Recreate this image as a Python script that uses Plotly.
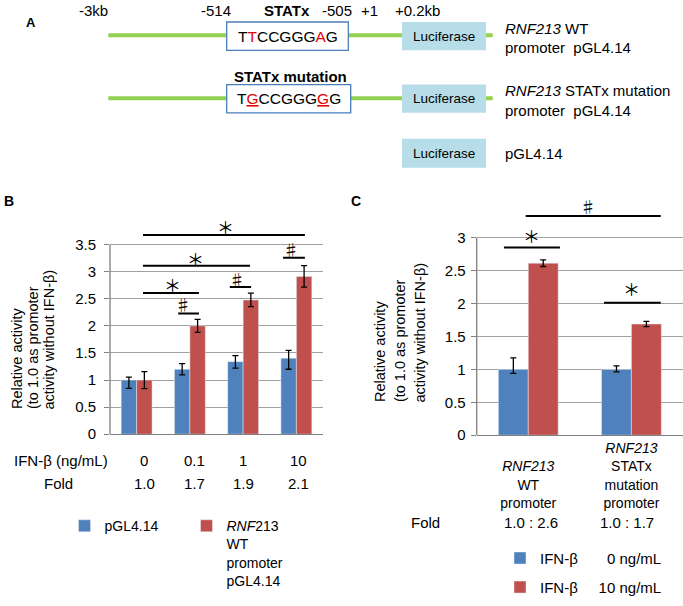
import plotly.graph_objects as go

W, H = 683, 606
FONT = "Arial, Liberation Sans, sans-serif"
SYM = "Noto Sans CJK JP, DejaVu Sans, sans-serif"
BLUE = "#4F81BD"
RED = "#C0504D"
AX = "#7F7F7F"
GRID = "#A0A0A0"
SEQRED = "#E60000"

# ---------------- Panel B data ----------------
doses = ["0", "0.1", "1", "10"]
fold_b = ["1.0", "1.7", "1.9", "2.1"]
vector_b = [1.0, 1.2, 1.34, 1.405]
vector_b_up = [0.055, 0.105, 0.11, 0.145]
vector_b_dn = [0.155, 0.105, 0.12, 0.205]
wt_b = [1.0, 2.0, 2.48, 2.915]
wt_b_up = [0.157, 0.12, 0.125, 0.2]
wt_b_dn = [0.157, 0.12, 0.125, 0.2]

# ---------------- Panel C data ----------------
constructs = ["RNF213 WT promoter", "RNF213 STATx mutation promoter"]
construct_labels = ["\u00a0<br><i>RNF213</i><br>WT<br>promoter",
                    "<i>RNF213</i><br>STATx<br>mutation<br>promoter"]
fold_c = ["1.0 : 2.6", "1.0 : 1.7"]
ifn0_c = [1.0, 1.0]
ifn0_up = [0.174, 0.054]
ifn0_dn = [0.06, 0.036]
ifn10_c = [2.615, 1.69]
ifn10_err = [0.05, 0.04]

b_cats = ["IFN-\u03b2 %s ng/mL" % d for d in doses]

# significance marks: (x0, x1, y_line, x_sym, y_sym, symbol) in category-index / data units
sig_b = [
    (0.12, 1.17, 2.61, 0.67, 2.77, "*"),
    (0.12, 2.13, 3.11, 1.11, 3.25, "*"),
    (0.12, 3.16, 3.68, 1.66, 3.83, "*"),
    (0.78, 1.17, 2.23, 0.87, 2.41, "#"),
    (1.75, 2.15, 2.72, 1.88, 2.87, "#"),
    (2.75, 3.16, 3.26, 2.89, 3.41, "#"),
]
sig_c = [
    (-0.236, 0.307, 2.855, 0.036, 3.04, "*"),
    (0.734, 1.284, 2.015, 1.0, 2.23, "*"),
    (-0.025, 1.284, 3.331, 0.58, 3.48, "#"),
]

# ---------------- geometry (pixels) ----------------
B_LEFT, B_RIGHT, B_ZERO, B_UNIT, B_TOP = 110, 323, 440, 54.86, 3.72
C_LEFT, C_RIGHT, C_ZERO, C_UNIT, C_TOP = 476.7, 683, 441, 66.65, 3.36


def px(x):
    return x / W


def py(y):
    return 1 - y / H


fig = go.Figure()

err_style = dict(color="black", thickness=1.3, width=3)

fig.add_trace(go.Bar(x=b_cats, y=vector_b, name="pGL4.14", marker_color=BLUE,
                     error_y=dict(type="data", symmetric=False, array=vector_b_up,
                                  arrayminus=vector_b_dn, **err_style),
                     xaxis="x", yaxis="y", legend="legend"))
fig.add_trace(go.Bar(x=b_cats, y=wt_b, name="<i>RNF</i>213<br>WT<br>promoter<br>pGL4.14",
                     marker_color=RED,
                     error_y=dict(type="data", symmetric=False, array=wt_b_up,
                                  arrayminus=wt_b_dn, **err_style),
                     xaxis="x", yaxis="y", legend="legend"))
fig.add_trace(go.Bar(x=constructs, y=ifn0_c,
                     name="IFN-\u03b2" + "\u00a0" * 7 + "0 ng/mL", marker_color=BLUE,
                     error_y=dict(type="data", symmetric=False, array=ifn0_up,
                                  arrayminus=ifn0_dn, **err_style),
                     xaxis="x2", yaxis="y2", legend="legend2"))
fig.add_trace(go.Bar(x=constructs, y=ifn10_c,
                     name="IFN-\u03b2" + "\u00a0" * 5 + "10 ng/mL", marker_color=RED,
                     error_y=dict(type="data", array=ifn10_err, **err_style),
                     xaxis="x2", yaxis="y2", legend="legend3"))

shapes = []
ann = []


def txt(x, y, s, size=15, anchor="center", family=FONT, **kw):
    d = dict(x=px(x), y=py(y), xref="paper", yref="paper", text=s, showarrow=False,
             xanchor=anchor, yanchor="middle",
             font=dict(size=size, family=family, color="black"))
    d.update(kw)
    return d


def rect(x0, x1, y0, y1, fill, line_color=None, lw=0):
    return dict(type="rect", xref="paper", yref="paper", x0=px(x0), x1=px(x1),
                y0=py(y1), y1=py(y0), fillcolor=fill,
                line=dict(color=line_color or fill, width=lw), layer="above")


def hline(x0, x1, y, color, w):
    return dict(type="line", xref="paper", yref="paper", x0=px(x0), x1=px(x1),
                y0=py(y), y1=py(y), line=dict(color=color, width=w), layer="above")


# ---------------- Panel A (construct diagram) ----------------
GREEN = "#92D050"
BOXLINE = "#4A7EBB"
LUC = "#B7DEE8"
shapes += [
    hline(108.3, 492.7, 35.7, GREEN, 4),
    rect(226.7, 348.3, 22.3, 51, "white", BOXLINE, 1.3),
    rect(402, 486, 22.3, 51, LUC),
    hline(108.3, 492.7, 99.5, GREEN, 4),
    rect(226.7, 350.7, 85.7, 114.3, "white", BOXLINE, 1.3),
    rect(402, 486, 85.7, 114.3, LUC),
    rect(402, 486, 140.7, 170, LUC),
]
r = "<span style='color:%s'>%%s</span>" % SEQRED
ru = "<span style='color:%s'><u>%%s</u></span>" % SEQRED
ann += [
    txt(31, 23.3, "<b>A</b>", 13),
    txt(93.5, 10.5, "-3kb"),
    txt(216, 10.5, "-514"),
    txt(287, 10.5, "<b>STATx</b>"),
    txt(337, 10.5, "-505"),
    txt(369, 10.5, "+1"),
    txt(417, 10.5, "+0.2kb"),
    txt(287.5, 37, "T" + r % "T" + "CCGGG" + r % "A" + "G", 15.5),
    txt(444, 36.7, "Luciferase", 13.5),
    txt(503, 29.3, "<i>RNF213</i> WT", anchor="left"),
    txt(503, 48.3, "promoter\u00a0\u00a0pGL4.14", anchor="left"),
    txt(290, 78, "<b>STATx mutation</b>"),
    txt(288.7, 100, "T" + ru % "G" + "CCGGG" + ru % "G" + "G", 15.5),
    txt(444, 100, "Luciferase", 13.5),
    txt(503, 92, "<i>RNF213</i> STATx mutation", anchor="left"),
    txt(503, 111.7, "promoter\u00a0\u00a0pGL4.14", anchor="left"),
    txt(444, 155.3, "Luciferase", 13.5),
    txt(503, 155.7, "pGL4.14", anchor="left"),
]


def sig_marks(specs, xr, yr, unit):
    out_s, out_a = [], []
    for x0, x1, yl, xs, ys, s in specs:
        out_s.append(dict(type="line", xref=xr, yref=yr, x0=x0, x1=x1, y0=yl, y1=yl,
                          line=dict(color="black", width=2)))
        if s == "*":
            glyph, size = "\uff0a", 17
        else:
            glyph, size = "\u266f", 16
        out_a.append(dict(x=xs, y=yl, xref=xr, yref=yr, text=glyph, showarrow=False,
                          yshift=(ys - yl) * unit, yanchor="middle",
                          font=dict(size=size, family=SYM, color="black")))
    return out_s, out_a


# ---------------- Panel B extras ----------------
ann.append(txt(9, 204, "<b>B</b>", 14))
for xx, s in zip([17, 33, 49], ["Relative activity", "(to 1.0 as promoter",
                                "activity without IFN-\u03b2)"]):
    ann.append(dict(x=px(xx), y=py(417), xref="paper", yref="paper", text=s,
                    showarrow=False, textangle=-90, xanchor="center", yanchor="bottom",
                    font=dict(size=14.5, family=FONT, color="black")))
ann.append(txt(60.5, 467, "IFN-\u03b2 (ng/mL)"))
ann.append(txt(58, 490, "Fold"))
table_x_b = [144, 194, 243, 298]
for xx, d, f in zip(table_x_b, doses, fold_b):
    ann.append(txt(xx, 467, d))
    ann.append(txt(xx, 490, f))
s_, a_ = sig_marks(sig_b, "x", "y", B_UNIT)
shapes += s_
ann += a_
shapes.append(dict(type="line", xref="x domain", yref="y", x0=0, x1=0, y0=0, y1=3.5,
                   line=dict(color=AX, width=1.3)))

# ---------------- Panel C extras ----------------
ann.append(txt(356, 203.3, "<b>C</b>", 14))
for xx, s in zip([380, 400, 420], ["Relative activity", "(to 1.0 as promoter",
                                   "activity without IFN-\u03b2)"]):
    ann.append(dict(x=px(xx), y=py(410), xref="paper", yref="paper", text=s,
                    showarrow=False, textangle=-90, xanchor="center", yanchor="bottom",
                    font=dict(size=14.5, family=FONT, color="black")))
ann.append(txt(425, 529, "Fold"))
for xx, f in zip([530.7, 626.7], fold_c):
    ann.append(txt(xx, 529, f))
s_, a_ = sig_marks(sig_c, "x2", "y2", C_UNIT)
shapes += s_
ann += a_
shapes.append(dict(type="line", xref="x2 domain", yref="y2", x0=0, x1=0, y0=0, y1=3,
                   line=dict(color=AX, width=1.3)))

tickfont = dict(size=15, family=FONT, color="black")
legfont = dict(size=15, family=FONT, color="black")

fig.update_layout(
    width=W, height=H, margin=dict(l=0, r=0, t=0, b=0),
    paper_bgcolor="white", plot_bgcolor="white",
    font=dict(family=FONT, size=15, color="black"),
    barmode="group", bargap=0.42, bargroupgap=0,
    shapes=shapes, annotations=ann,
    xaxis=dict(domain=[px(B_LEFT), px(B_RIGHT)], type="category", anchor="y",
               showline=True, linecolor=AX, linewidth=1.3, showticklabels=False,
               ticks="", showgrid=False, zeroline=False),
    yaxis=dict(domain=[py(B_ZERO), py(B_ZERO - B_TOP * B_UNIT)], range=[0, B_TOP],
               anchor="x", tickmode="linear", tick0=0, dtick=0.5, ticks="outside",
               ticklen=5, tickcolor=AX, showgrid=True, gridcolor=GRID, gridwidth=1,
               zeroline=False, showline=False, tickfont=tickfont, ticklabelstandoff=5),
    xaxis2=dict(domain=[px(C_LEFT), px(C_RIGHT)], type="category", anchor="y2",
                showline=True, linecolor=AX, linewidth=1.3, ticks="",
                tickvals=constructs, ticktext=construct_labels,
                tickfont=dict(size=14, family=FONT, color="black"),
                showgrid=False, zeroline=False),
    yaxis2=dict(domain=[py(C_ZERO), py(C_ZERO - C_TOP * C_UNIT)], range=[0, C_TOP],
                anchor="x2", tickmode="linear", tick0=0, dtick=0.5, ticks="outside",
                ticklen=5, tickcolor=AX, showgrid=True, gridcolor=GRID, gridwidth=1,
                zeroline=False, showline=False, tickfont=tickfont, ticklabelstandoff=2),
    legend=dict(x=px(64.5), y=py(517), xanchor="left", yanchor="top",
                orientation="h", entrywidth=77, entrywidthmode="pixels", valign="top",
                font=dict(size=14, family=FONT, color="black"),
                bgcolor="rgba(0,0,0,0)", traceorder="normal"),
    legend2=dict(x=px(500), y=py(549), xanchor="left", yanchor="top",
                 orientation="v", font=legfont, bgcolor="rgba(0,0,0,0)"),
    legend3=dict(x=px(500), y=py(578.5), xanchor="left", yanchor="top",
                 orientation="v", font=legfont, bgcolor="rgba(0,0,0,0)"),
    showlegend=True,
)

fig.write_html("out.html", config={"displayModeBar": False},
               post_script="document.body.style.margin='0';document.body.style.padding='0';")
